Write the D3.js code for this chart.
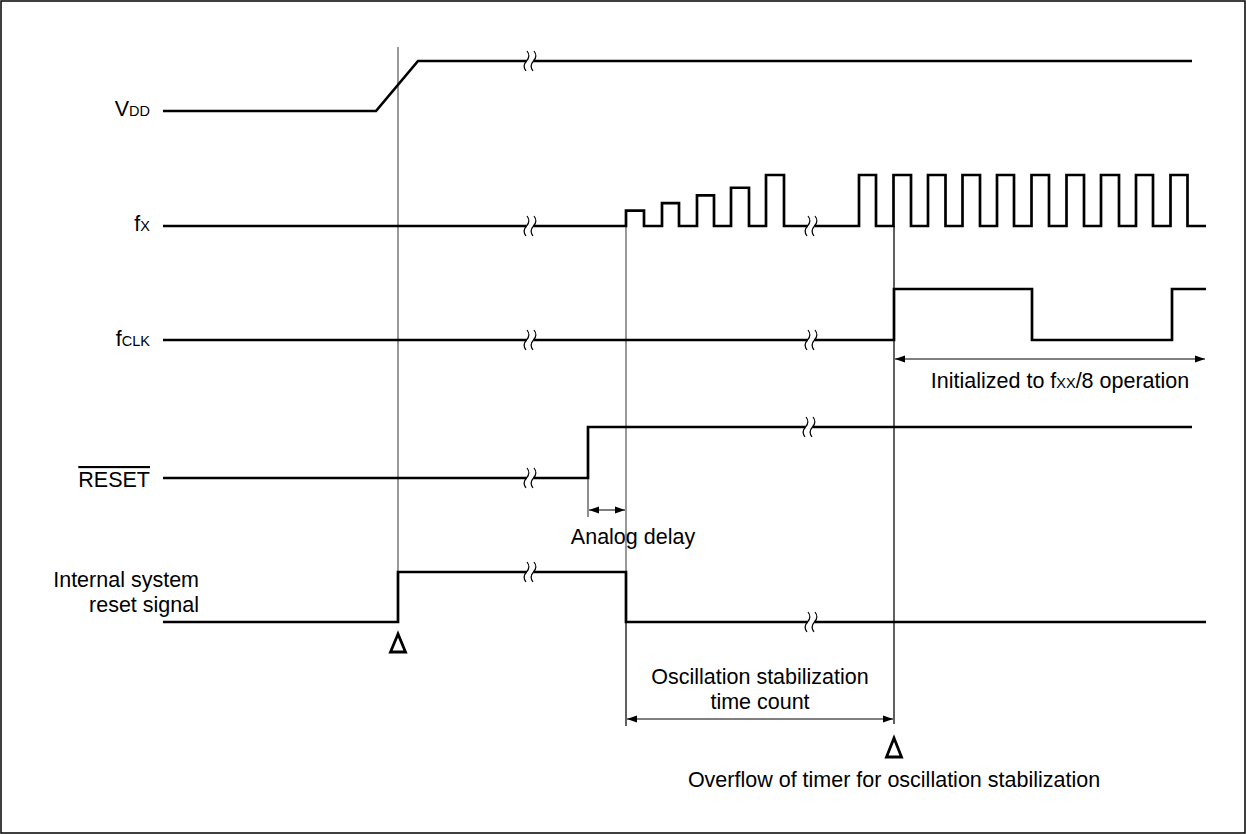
<!DOCTYPE html>
<html>
<head>
<meta charset="utf-8">
<script src="https://cdn.jsdelivr.net/npm/d3@7"></script>
<style>
body { margin: 0; background: #fff; }
svg { display: block; font-family: "Liberation Sans", Arial, Helvetica, sans-serif; }
</style>
</head>
<body>
<svg id="chart" width="1246" height="834"></svg>
<script>
var signalNames = ["VDD", "fX", "fCLK", "RESET", "Internal system reset signal"];

// waveforms as [time, level] corner points
var vddWave = [[163, 0], [376, 0], [418, 1], [1192, 1]];
var fclkWave = [[163, 0], [894, 0], [894, 1], [1032, 1], [1032, 0], [1172, 0], [1172, 1], [1206, 1]];
var resetWave = [[163, 0], [588, 0], [588, 1], [1192, 1]];
var intResetWave = [[163, 0], [398, 0], [398, 1], [626, 1], [626, 0], [1206, 0]];

// fx: oscillator start-up (growing amplitude) then a steady clock
var fxStartupRise = [626, 662, 697, 731, 766];
var fxStartupFall = [644, 679, 714, 749, 784];
var fxStartupAmp = [0.3, 0.45, 0.6, 0.75, 1];
var fxClockRise = [859, 893.5, 928, 962.5, 997, 1031.5, 1066.5, 1101, 1136, 1170.5];
var fxClockFall = [876, 911, 945.5, 980, 1014, 1049, 1084, 1119, 1153, 1187.5];
var fxSpan = [163, 1206];

// where each trace is cut with a break mark
var breakTimes = [[530], [530, 811], [530, 811], [530, 809], [530, 811]];

// thin guide lines and the timing spans with their notes
var guideTimes = [398, 626, 894];
var spanFrom = [588, 626, 894];
var spanTo = [626, 894, 1206];
var spanNotes = ["Analog delay", "Oscillation stabilization|time count", "Initialized to f{XX}/8 operation"];
var eventTimes = [398, 894];
var eventNote = "Overflow of timer for oscillation stabilization";

// build the fx trace from its pulses
var fxWave = [[fxSpan[0], 0]];
fxStartupRise.forEach(function (r, i) {
    var a = fxStartupAmp[i];
    fxWave.push([r, 0], [r, a], [fxStartupFall[i], a], [fxStartupFall[i], 0]);
});
fxClockRise.forEach(function (r, i) {
    fxWave.push([r, 0], [r, 1], [fxClockFall[i], 1], [fxClockFall[i], 0]);
});
fxWave.push([fxSpan[1], 0]);

var waves = [vddWave, fxWave, fclkWave, resetWave, intResetWave];

// ---- layout ----
var fontSize = 21.5, subSize = 14.5;
var rowLow = [111, 226, 340, 478, 622];
var rowAmp = [50, 51, 51, 51, 50];
var guideY = [[47, 572], [226, 726], [226, 724]];
var spanY = [510, 719, 359];
var tickY = [[478, 517], [622, 726], [226, 724]];

var svg = d3.select("#chart");
var x = d3.scaleLinear().domain([0, 1246]).range([0, 1246]);

svg.append("rect")
    .attr("x", 1).attr("y", 1)
    .attr("width", 1244).attr("height", 832)
    .attr("fill", "none").attr("stroke", "#000").attr("stroke-width", 1.5);

var defs = svg.append("defs");
defs.append("marker")
    .attr("id", "head")
    .attr("viewBox", "0 0 10 8")
    .attr("refX", 10).attr("refY", 4)
    .attr("markerWidth", 10).attr("markerHeight", 8)
    .attr("markerUnits", "userSpaceOnUse")
    .attr("orient", "auto-start-reverse")
    .append("path")
    .attr("d", "M0,0.5 L10,4 L0,7.5 Z")
    .attr("fill", "#000");

// guide lines (drawn first, traces sit on top)
guideTimes.forEach(function (t, i) {
    svg.append("line")
        .attr("x1", x(t)).attr("x2", x(t))
        .attr("y1", guideY[i][0]).attr("y2", guideY[i][1])
        .attr("stroke", "#444").attr("stroke-width", 1.1);
});

// span ticks + arrows
spanFrom.forEach(function (t0, i) {
    var t1 = spanTo[i];
    svg.append("line")
        .attr("x1", x(t0)).attr("x2", x(t0))
        .attr("y1", tickY[i][0]).attr("y2", tickY[i][1])
        .attr("stroke", "#333").attr("stroke-width", 1.1);
    svg.append("line")
        .attr("x1", x(t0) + 1).attr("x2", x(t1) - 1)
        .attr("y1", spanY[i]).attr("y2", spanY[i])
        .attr("stroke", "#000").attr("stroke-width", 1.2)
        .attr("marker-start", "url(#head)")
        .attr("marker-end", "url(#head)");
});

// traces
waves.forEach(function (wave, i) {
    var y = d3.scaleLinear().domain([0, 1]).range([rowLow[i], rowLow[i] - rowAmp[i]]);
    var line = d3.line()
        .x(function (d) { return x(d[0]); })
        .y(function (d) { return y(d[1]); });
    svg.append("path")
        .attr("d", line(wave))
        .attr("fill", "none")
        .attr("stroke", "#000")
        .attr("stroke-width", 2.7)
        .attr("stroke-linejoin", "miter")
        .attr("stroke-linecap", "butt");

    // break marks
    breakTimes[i].forEach(function (bt) {
        var lvl = 0;
        wave.forEach(function (p) { if (p[0] <= bt) lvl = p[1]; });
        var cy = y(lvl), cx = x(bt);
        svg.append("rect")
            .attr("x", cx - 3.5).attr("y", cy - 3)
            .attr("width", 7).attr("height", 6)
            .attr("fill", "#fff");
        [-3.5, 3.5].forEach(function (dx) {
            var sx = cx + dx;
            svg.append("path")
                .attr("d", "M" + (sx + 0.5) + "," + (cy - 10) +
                    " Q" + (sx + 4.5) + "," + (cy - 5) + " " + sx + "," + cy +
                    " Q" + (sx - 4.5) + "," + (cy + 5) + " " + (sx - 0.5) + "," + (cy + 10))
                .attr("fill", "none")
                .attr("stroke", "#000")
                .attr("stroke-width", 1.2);
        });
    });
});

// signal labels
function labelWithSub(g, main, sub, xPos, yPos, anchor) {
    var t = g.append("text")
        .attr("x", xPos).attr("y", yPos)
        .attr("text-anchor", anchor)
        .attr("font-size", fontSize)
        .attr("fill", "#000");
    t.append("tspan").text(main);
    t.append("tspan").attr("font-size", subSize).text(sub);
    return t;
}
labelWithSub(svg, "V", "DD", 150, rowLow[0] + 5, "end");
labelWithSub(svg, "f", "X", 150, rowLow[1] + 5, "end");
labelWithSub(svg, "f", "CLK", 150, rowLow[2] + 6, "end");
svg.append("text")
    .attr("x", 150).attr("y", rowLow[3] + 9)
    .attr("text-anchor", "end")
    .attr("font-size", fontSize)
    .attr("text-decoration", "overline")
    .text(signalNames[3]);
svg.append("text")
    .attr("x", 199).attr("y", 587)
    .attr("text-anchor", "end")
    .attr("font-size", fontSize)
    .text("Internal system");
svg.append("text")
    .attr("x", 199).attr("y", 612)
    .attr("text-anchor", "end")
    .attr("font-size", fontSize)
    .text("reset signal");

// span notes
svg.append("text")
    .attr("x", 633).attr("y", 544)
    .attr("text-anchor", "middle")
    .attr("font-size", fontSize)
    .text(spanNotes[0]);
spanNotes[1].split("|").forEach(function (s, k) {
    svg.append("text")
        .attr("x", x((spanFrom[1] + spanTo[1]) / 2)).attr("y", 684 + k * 25)
        .attr("text-anchor", "middle")
        .attr("font-size", fontSize)
        .text(s);
});
var initText = svg.append("text")
    .attr("x", 1060).attr("y", 388)
    .attr("text-anchor", "middle")
    .attr("font-size", fontSize);
initText.append("tspan").text("Initialized to f");
initText.append("tspan").attr("font-size", subSize).text("XX");
initText.append("tspan").text("/8 operation");

// event markers (open triangles)
var triY = [[634, 652], [738, 757]];
eventTimes.forEach(function (t, i) {
    var cx = x(t), y0 = triY[i][0], y1 = triY[i][1];
    svg.append("path")
        .attr("d", "M" + cx + "," + y0 + " L" + (cx - 7.5) + "," + y1 + " L" + (cx + 7.5) + "," + y1 + " Z")
        .attr("fill", "none")
        .attr("stroke", "#000")
        .attr("stroke-width", 2.8)
        .attr("stroke-linejoin", "miter");
});
svg.append("text")
    .attr("x", x(eventTimes[1])).attr("y", 787)
    .attr("text-anchor", "middle")
    .attr("font-size", fontSize)
    .text(eventNote);
</script>
</body>
</html>
